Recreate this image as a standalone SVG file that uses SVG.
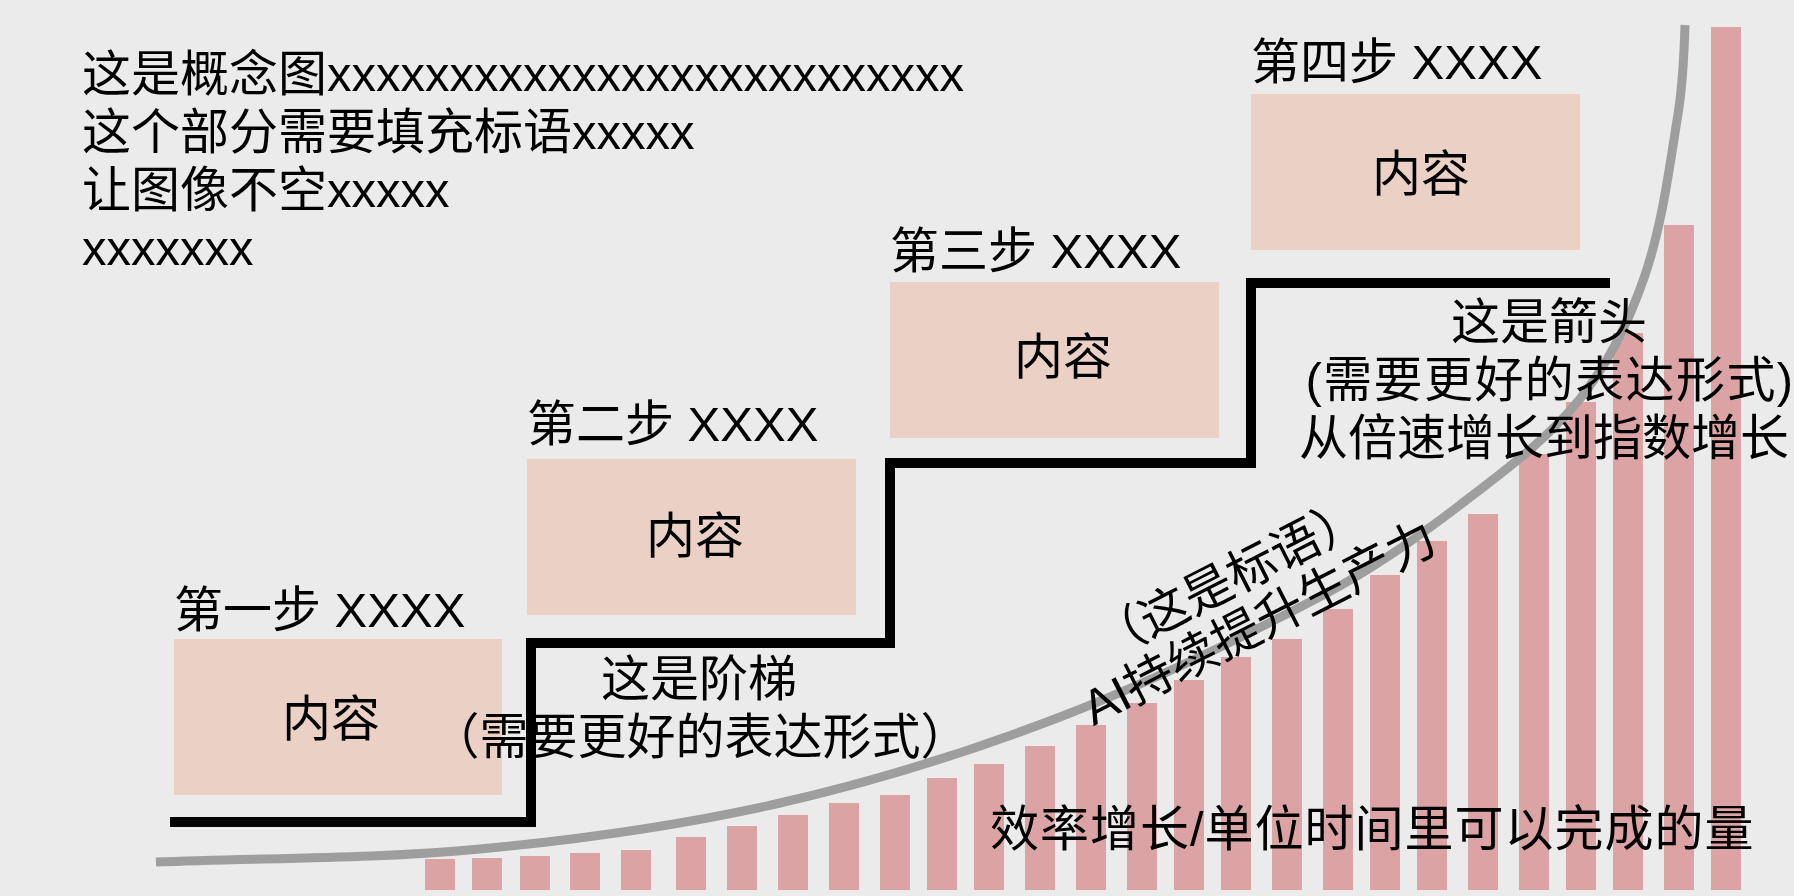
<svg xmlns="http://www.w3.org/2000/svg" width="1794" height="896" viewBox="0 0 1794 896">
<style>
text{font-family:"Liberation Sans","Noto Sans CJK SC",sans-serif;font-size:49px;fill:#000}
.m{text-anchor:middle}
.box{fill:#ebd0c5}
.bar{fill:#dba3a3}
.stair{fill:none;stroke:#000;stroke-width:10;stroke-linejoin:miter;stroke-linecap:butt}
.curve{fill:none;stroke:#9e9e9e;stroke-width:9;stroke-linecap:butt}
</style>
<rect x="0" y="0" width="1794" height="896" fill="#ebebeb"/>

<g id="title">
<text x="82" y="91">这是概念图xxxxxxxxxxxxxxxxxxxxxxxxxx</text>
<text x="82" y="149">这个部分需要填充标语xxxxx</text>
<text x="82" y="207">让图像不空xxxxx</text>
<text x="82" y="265">xxxxxxx</text>
</g>

<g id="step1">
<text x="174" y="627">第一步 XXXX</text>
<rect class="box" x="174" y="639" width="328" height="156"/>
<text class="m" x="331" y="736">内容</text>
</g>
<g id="step2">
<text x="527" y="441">第二步 XXXX</text>
<rect class="box" x="527" y="459" width="329" height="156"/>
<text class="m" x="695" y="553">内容</text>
</g>
<g id="step3">
<text x="890" y="268">第三步 XXXX</text>
<rect class="box" x="890" y="282" width="329" height="156"/>
<text class="m" x="1063" y="374">内容</text>
</g>
<g id="step4">
<text x="1251" y="79">第四步 XXXX</text>
<rect class="box" x="1251" y="94" width="329" height="156"/>
<text class="m" x="1421" y="191">内容</text>
</g>

<g id="connectors">
<path id="stairs" class="stair" d="M170,822 H531 V643 H890 V463 H1251 V283 H1610"/>
</g>

<g id="bars">
<rect class="bar" x="425" y="859" width="30" height="31"/>
<rect class="bar" x="472" y="858" width="30" height="32"/>
<rect class="bar" x="520" y="856" width="30" height="34"/>
<rect class="bar" x="570" y="853" width="30" height="37"/>
<rect class="bar" x="621" y="850" width="30" height="40"/>
<rect class="bar" x="676" y="837" width="30" height="53"/>
<rect class="bar" x="727" y="826" width="30" height="64"/>
<rect class="bar" x="778" y="815" width="30" height="75"/>
<rect class="bar" x="829" y="803" width="30" height="87"/>
<rect class="bar" x="880" y="795" width="30" height="95"/>
<rect class="bar" x="927" y="778" width="30" height="112"/>
<rect class="bar" x="974" y="764" width="30" height="126"/>
<rect class="bar" x="1025" y="746" width="30" height="144"/>
<rect class="bar" x="1076" y="725" width="30" height="165"/>
<rect class="bar" x="1127" y="703" width="30" height="187"/>
<rect class="bar" x="1174" y="680" width="30" height="210"/>
<rect class="bar" x="1221" y="657" width="30" height="233"/>
<rect class="bar" x="1272" y="639" width="30" height="251"/>
<rect class="bar" x="1323" y="609" width="30" height="281"/>
<rect class="bar" x="1370" y="575" width="30" height="315"/>
<rect class="bar" x="1417" y="541" width="30" height="349"/>
<rect class="bar" x="1468" y="514" width="30" height="376"/>
<rect class="bar" x="1519" y="454" width="30" height="436"/>
<rect class="bar" x="1566" y="402" width="30" height="488"/>
<rect class="bar" x="1613" y="333" width="30" height="557"/>
<rect class="bar" x="1664" y="225" width="30" height="665"/>
<rect class="bar" x="1711" y="27" width="30" height="863"/>
</g>

<g id="growth-curve">
<path class="curve" d="M156,862 C264,857.7 372.4,859.2 480,849 C580.7,839.5 681.3,825.5 780,803 C875.2,781.3 968.9,752 1060,717 C1151.6,681.8 1240.3,638.9 1327,593 C1374,568.1 1417.8,537.4 1460,505 C1502,472.8 1545.7,441.1 1579,400 C1608,364.2 1628.9,321.6 1644,278 C1662.3,225.3 1669.1,169.1 1678,114 C1682.8,84.6 1684.1,54.8 1685,25"/>
</g>

<g id="stairs-label">
<text class="m" x="699" y="696">这是阶梯</text>
<text class="m" x="700" y="754">（需要更好的表达形式）</text>
</g>

<g id="arrow-label">
<text class="m" x="1549" y="339">这是箭头</text>
<text class="m" x="1550" y="397" letter-spacing="1.4">(需要更好的表达形式)</text>
<text class="m" x="1544" y="455">从倍速增长到指数增长</text>
</g>

<g id="slogan" transform="translate(1267,638) rotate(-27)">
<text class="m" x="-6" y="-53">（这是标语）</text>
<text class="m" x="0" y="0">AI持续提升生产力</text>
</g>

<g id="axis-label">
<text x="990" y="846" letter-spacing="1">效率增长/单位时间里可以完成的量</text>
</g>
</svg>
